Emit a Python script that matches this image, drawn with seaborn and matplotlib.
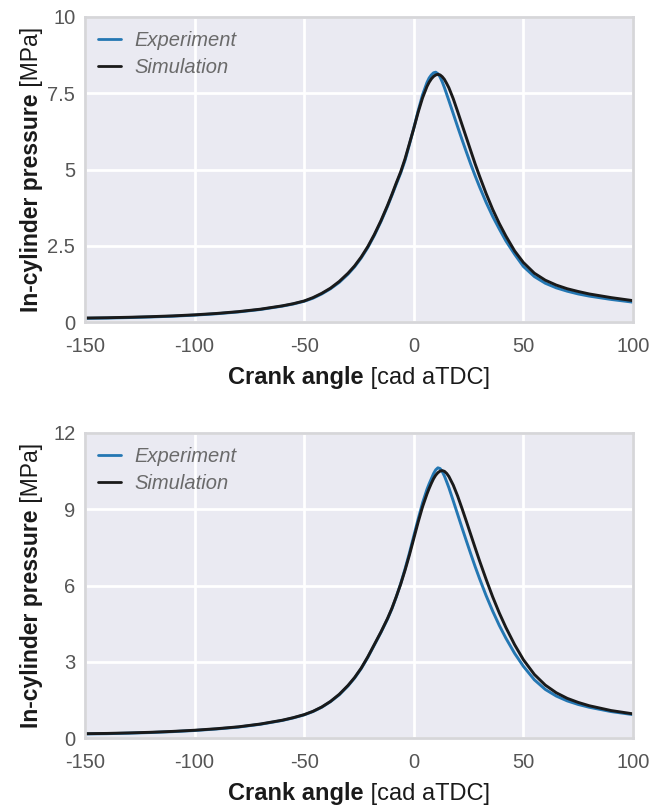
import matplotlib
matplotlib.use("Agg")
import matplotlib.pyplot as plt
import seaborn as sns
import pandas as pd

# ---------------- data ----------------
angles = [-150, -140, -130, -120, -110, -100, -90, -80, -70, -60,
          -55, -50, -46, -42, -38, -34, -30,
          -27, -24, -21, -18, -15, -12,
          -10, -8, -6, -4, -2, 0, 2, 4, 6,
          7, 8, 9, 10, 11, 12, 13, 14, 15, 16,
          18, 20, 22, 24, 26, 28, 30,
          33, 36, 39, 42, 46, 50,
          55, 60, 65, 70, 75, 80, 90, 100]

exp_top = [0.12, 0.13, 0.145, 0.165, 0.19, 0.225, 0.27, 0.33, 0.41, 0.52,
           0.59, 0.68, 0.78, 0.92, 1.09, 1.30, 1.57,
           1.81, 2.10, 2.44, 2.84, 3.29, 3.79,
           4.15, 4.52, 4.88, 5.30, 5.82, 6.36, 6.93, 7.45, 7.85,
           8.00, 8.10, 8.17, 8.19, 8.14, 8.03, 7.87, 7.68, 7.47, 7.26,
           6.83, 6.40, 5.98, 5.57, 5.17, 4.79, 4.43,
           3.92, 3.46, 3.05, 2.66, 2.22, 1.82,
           1.49, 1.27, 1.12, 1.01, 0.92, 0.85, 0.74, 0.65]
sim_top = [0.13, 0.14, 0.155, 0.175, 0.20, 0.235, 0.28, 0.34, 0.42, 0.53,
           0.60, 0.69, 0.80, 0.94, 1.11, 1.33, 1.60,
           1.84, 2.13, 2.47, 2.87, 3.32, 3.82,
           4.18, 4.56, 4.92, 5.35, 5.85, 6.35, 6.88, 7.35, 7.72,
           7.86, 7.97, 8.05, 8.10, 8.12, 8.10, 8.04, 7.95, 7.82, 7.68,
           7.32, 6.90, 6.47, 6.04, 5.61, 5.18, 4.78,
           4.21, 3.69, 3.23, 2.82, 2.33, 1.95,
           1.60, 1.37, 1.21, 1.09, 1.00, 0.92, 0.80, 0.70]

exp_bot = [0.16, 0.17, 0.19, 0.215, 0.25, 0.295, 0.355, 0.43, 0.54, 0.69,
           0.79, 0.91, 1.04, 1.21, 1.43, 1.70, 2.05,
           2.36, 2.73, 3.17, 3.66, 4.15, 4.68,
           5.08, 5.55, 6.07, 6.65, 7.28, 7.95, 8.62, 9.25, 9.78,
           10.00, 10.20, 10.40, 10.55, 10.63, 10.60, 10.48, 10.30, 10.08, 9.85,
           9.33, 8.80, 8.27, 7.75, 7.24, 6.74, 6.27,
           5.60, 4.99, 4.43, 3.93, 3.33, 2.82,
           2.29, 1.91, 1.65, 1.46, 1.32, 1.21, 1.04, 0.92]
sim_bot = [0.17, 0.18, 0.20, 0.225, 0.26, 0.305, 0.365, 0.44, 0.55, 0.70,
           0.80, 0.92, 1.05, 1.22, 1.44, 1.72, 2.07,
           2.38, 2.75, 3.19, 3.68, 4.17, 4.70,
           5.10, 5.56, 6.05, 6.60, 7.20, 7.85, 8.50, 9.10, 9.60,
           9.82, 10.02, 10.20, 10.34, 10.44, 10.50, 10.52, 10.49, 10.41, 10.29,
           9.95, 9.52, 9.03, 8.52, 8.00, 7.48, 6.97,
           6.24, 5.55, 4.92, 4.35, 3.67, 3.08,
           2.50, 2.08, 1.78, 1.56, 1.40, 1.27, 1.08, 0.95]

series_names = ["Experiment", "Simulation"]
x_ticks = [-150, -100, -50, 0, 50, 100]
x_ticklabels = ["-150", "-100", "-50", "0", "50", "100"]
y_ticks_top = [0, 2.5, 5, 7.5, 10]
y_ticklabels_top = ["0", "2.5", "5", "7.5", "10"]
y_ticks_bot = [0, 3, 6, 9, 12]
y_ticklabels_bot = ["0", "3", "6", "9", "12"]
xlabel_parts = ("Crank angle", " [cad aTDC]")
ylabel_parts = ("In-cylinder pressure", " [MPa]")

# ---------------- style ----------------
sns.set_theme(style="darkgrid")
plt.rcParams["font.family"] = ["Liberation Sans", "DejaVu Sans"]

BLUE = "#2477b3"
BLACK = "#1a1a1a"
TICK_C = "#555555"
W, H = 666, 806

fig = plt.figure(figsize=(W / 100, H / 100), dpi=100)
ax1 = fig.add_axes([85 / W, 1 - 322 / H, 548 / W, 305 / H])
ax2 = fig.add_axes([85 / W, 1 - 738 / H, 548 / W, 305 / H])

panels = [
    (ax1, exp_top, sim_top, (0, 10), y_ticks_top, y_ticklabels_top, 322),
    (ax2, exp_bot, sim_bot, (0, 12), y_ticks_bot, y_ticklabels_bot, 738),
]

fig.canvas.draw()
renderer = fig.canvas.get_renderer()

for ax, e, s, ylim, yt, ytl, ybottom_px in panels:
    df = pd.DataFrame({"angle": angles, "Experiment": e, "Simulation": s})
    long = df.melt(id_vars="angle", var_name="series", value_name="pressure")
    sns.lineplot(data=long, x="angle", y="pressure", hue="series",
                 hue_order=series_names,
                 palette={"Experiment": BLUE, "Simulation": BLACK},
                 linewidth=2.1, ax=ax, sort=True, estimator=None)
    ax.set_facecolor("#EAEAF2")
    ax.grid(True, color="white", linewidth=2)
    ax.set_axisbelow(True)
    for sp in ax.spines.values():
        sp.set_visible(True)
        sp.set_color("#d6d6d9")
        sp.set_linewidth(2)
    ax.set_xlim(-150, 100)
    ax.set_ylim(*ylim)
    ax.set_xticks(x_ticks)
    ax.set_xticklabels(x_ticklabels)
    ax.set_yticks(yt)
    ax.set_yticklabels(ytl)
    ax.tick_params(axis="both", length=0, labelsize=14.5, labelcolor=TICK_C)
    ax.tick_params(axis="x", pad=11)
    ax.tick_params(axis="y", pad=7)
    ax.set_xlabel("")
    ax.set_ylabel("")

    handles, labels = ax.get_legend_handles_labels()
    leg = ax.legend(handles, labels, loc="upper left",
                    bbox_to_anchor=(0.024, 0.953), borderaxespad=0, borderpad=0,
                    frameon=False, prop={"style": "italic", "size": 14.5},
                    handlelength=1.15, handletextpad=0.65, labelspacing=0.38)
    for t in leg.get_texts():
        t.set_color("#6a6a6a")
    for lh in leg.get_lines():
        lh.set_linewidth(2)

    # x label: bold part + regular part, centred under the axes
    base_y = 1 - (ybottom_px + 62) / H
    cx = (85 + 548 / 2) / W
    t1 = fig.text(0, base_y, xlabel_parts[0], fontsize=17, fontweight="bold",
                  color="#1a1a1a", va="baseline", ha="left")
    t2 = fig.text(0, base_y, xlabel_parts[1], fontsize=17, color="#1a1a1a",
                  va="baseline", ha="left")
    w1 = t1.get_window_extent(renderer=renderer).width
    w2 = t2.get_window_extent(renderer=renderer).width
    x0 = cx * W - (w1 + w2) / 2
    t1.set_x(x0 / W)
    t2.set_x((x0 + w1) / W)

    # y label: rotated, bold + regular, centred on the axes
    base_x = 38 / W
    cy_px = (H - ybottom_px) + 305 / 2
    r1 = fig.text(base_x, 0, ylabel_parts[0], fontsize=16.5, fontweight="bold",
                  color="#1a1a1a", rotation=90, rotation_mode="anchor",
                  va="baseline", ha="left")
    r2 = fig.text(base_x, 0, ylabel_parts[1], fontsize=16.5, color="#1a1a1a",
                  rotation=90, rotation_mode="anchor", va="baseline", ha="left")
    h1 = r1.get_window_extent(renderer=renderer).height
    h2 = r2.get_window_extent(renderer=renderer).height
    y0 = cy_px - (h1 + h2) / 2
    r1.set_y(y0 / H)
    r2.set_y((y0 + h1) / H)

fig.savefig("out.png", dpi=100)
